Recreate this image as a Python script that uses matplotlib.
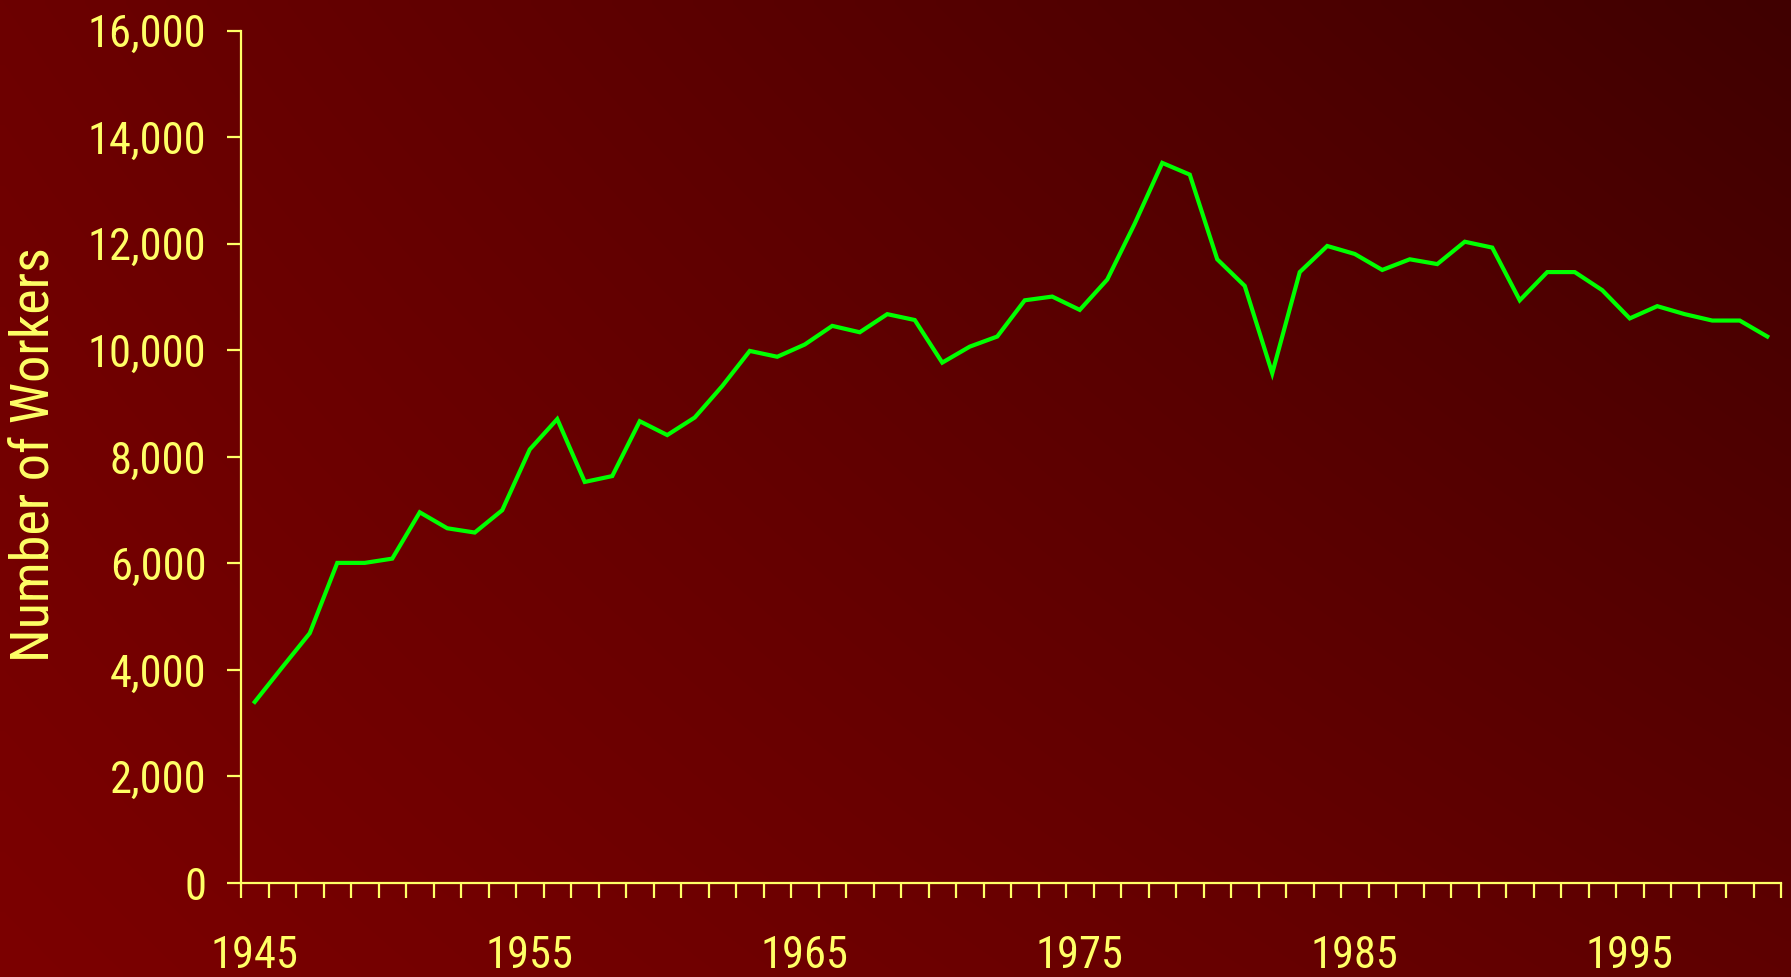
import numpy as np
import matplotlib
matplotlib.use("Agg")
import matplotlib.pyplot as plt
from matplotlib.ticker import FixedLocator, FuncFormatter

years = list(range(1945, 2001))
workers = [3400, 4050, 4690, 6010, 6010, 6090, 6960, 6660, 6580, 7000,
           8140, 8710, 7530, 7640, 8670, 8410, 8740, 9330, 9990, 9880,
           10110, 10460, 10340, 10680, 10570, 9770, 10070, 10260, 10940, 11010,
           10760, 11330, 12380, 13520, 13300, 11710, 11210, 9570, 11470, 11960,
           11810, 11510, 11710, 11620, 12040, 11930, 10940, 11470, 11470, 11130,
           10600, 10830, 10680, 10560, 10560, 10260]
label_years = [1945, 1955, 1965, 1975, 1985, 1995]
y_ticks = [0, 2000, 4000, 6000, 8000, 10000, 12000, 14000, 16000]
y_label = "Number of Workers"

plt.rcParams['font.family'] = ['Roboto Condensed', 'DejaVu Sans']
txt = '#FFFF66'
green = '#00FF00'

W, H = 1791, 977
fig = plt.figure(figsize=(W / 100, H / 100), dpi=100)

# background gradient
bg = fig.add_axes([0, 0, 1, 1], zorder=-10)
tl = np.array([0x6c, 0, 0]) / 255
tr = np.array([0x40, 0, 0]) / 255
bl = np.array([0x7c, 0, 0]) / 255
br = np.array([0x5e, 0, 0]) / 255
u = np.linspace(0, 1, 200)[None, :, None]
v = np.linspace(0, 1, 120)[:, None, None]
img = (tl * (1 - u) * (1 - v) + tr * u * (1 - v) + bl * (1 - u) * v + br * u * v)
bg.imshow(img, aspect='auto', extent=[0, 1, 0, 1], interpolation='bilinear')
bg.set_axis_off()

left, right = 241 / W, 1781 / W
bottom, top = 1 - 883 / H, 1 - 30.8 / H
ax = fig.add_axes([left, bottom, right - left, top - bottom])
ax.set_facecolor('none')

ax.plot(years, workers, color=green, linewidth=3.0, solid_joinstyle='miter', zorder=3)

ax.set_xlim(years[0] - 0.5, years[-1] + 0.5)
ax.set_ylim(0, 16000)

for s in ['top', 'right']:
    ax.spines[s].set_visible(False)
for s in ['left', 'bottom']:
    ax.spines[s].set_color(txt)
    ax.spines[s].set_linewidth(1.6)

ax.xaxis.set_major_locator(FixedLocator(label_years))
ax.xaxis.set_minor_locator(FixedLocator([y - 0.5 for y in years] + [years[-1] + 0.5]))
ax.tick_params(axis='x', which='major', length=0, pad=61, labelsize=32, colors=txt)
ax.tick_params(axis='x', which='minor', length=11, width=1.6, color=txt, direction='out')
for lbl in ax.get_xticklabels():
    lbl.set_verticalalignment('baseline')

ax.yaxis.set_major_locator(FixedLocator(y_ticks))
ax.yaxis.set_major_formatter(FuncFormatter(lambda v, p: f"{int(v):,}"))
ax.tick_params(axis='y', which='major', length=10, width=1.6, color=txt, labelcolor=txt,
               labelsize=32, pad=15, direction='out')

t = fig.text(35 / W, 1 - 455 / H, y_label, rotation=90, color=txt, fontsize=40,
             ha='center', va='center')
# fit the title length to the reference (~415 px)
r = fig.canvas.get_renderer()
h = t.get_window_extent(r).height
t.set_fontsize(40 * 415 / h)

fig.savefig('out.png', dpi=100)
